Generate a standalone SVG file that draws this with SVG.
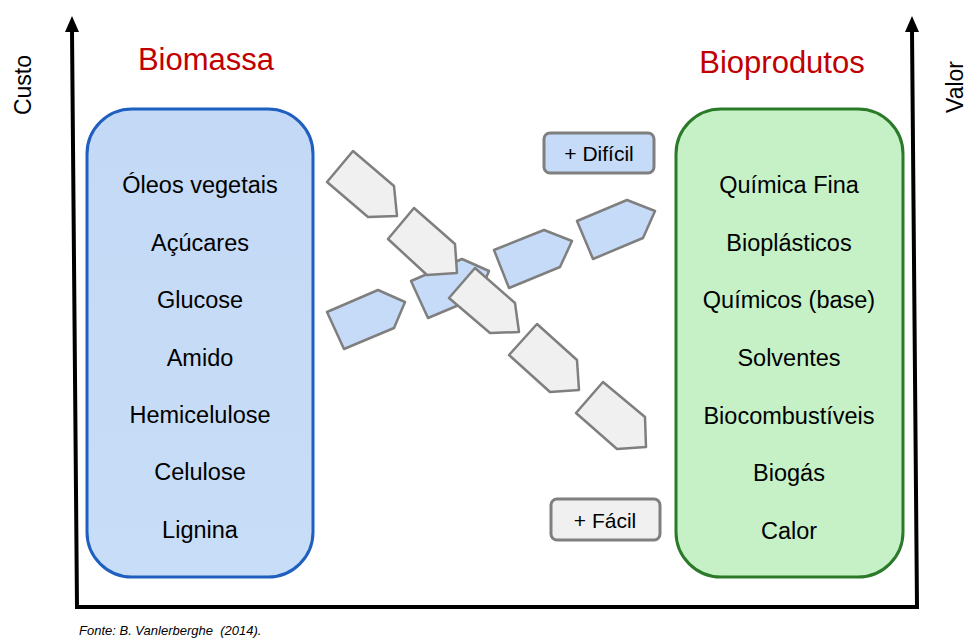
<svg xmlns="http://www.w3.org/2000/svg" width="972" height="643" viewBox="0 0 972 643">
<defs>
<style>
.t{font-family:"Liberation Sans",Arial,sans-serif;fill:#000}
.item{font-size:23.5px;text-anchor:middle}
.title{font-size:31px;fill:#c00000;text-anchor:middle;font-family:"Liberation Sans",Arial,sans-serif}
.ax{font-size:23px;text-anchor:middle}
.g{fill:#f0f0f0;stroke:#7f7f7f;stroke-width:2.5;stroke-linejoin:round}
.b{fill:#c5dbf7;stroke:#7f7f7f;stroke-width:2.5;stroke-linejoin:round}
.axis{stroke:#000;stroke-width:4;fill:none}
</style>
<linearGradient id="lb" x1="0" y1="0" x2="0" y2="1"><stop offset="0" stop-color="#c3d9f5"/><stop offset="1" stop-color="#c8ddf7"/></linearGradient>
</defs>
<rect width="972" height="643" fill="#fff"/>
<g id="connectors">
<path class="axis" d="M72,30 L77,607 L917,607 L912,30"/>
<polygon points="72,16 65,32 79,32" fill="#000"/>
<polygon points="912,16 905,32 919,32" fill="#000"/>
</g>
<g id="axis-labels">
<text class="t ax" transform="translate(31,85) rotate(-90)">Custo</text>
<text class="t ax" transform="translate(963,87) rotate(-90)">Valor</text>
</g>
<g id="title-biomassa"><text class="title" x="206" y="70">Biomassa</text></g>
<g id="title-bioprodutos"><text class="title" x="782" y="73">Bioprodutos</text></g>
<g id="biomassa">
<rect x="87" y="109" width="226" height="468" rx="45" fill="url(#lb)" stroke="#1f5fbf" stroke-width="3"/>
<text class="t item" x="200" y="193">Óleos vegetais</text>
<text class="t item" x="200" y="251">Açúcares</text>
<text class="t item" x="200" y="308">Glucose</text>
<text class="t item" x="200" y="366">Amido</text>
<text class="t item" x="200" y="423">Hemicelulose</text>
<text class="t item" x="200" y="480">Celulose</text>
<text class="t item" x="200" y="538">Lignina</text>
</g>
<g id="bioprodutos">
<rect x="676" y="109" width="227" height="468" rx="45" fill="#c6f1c6" stroke="#2a7a2a" stroke-width="3"/>
<text class="t item" x="789" y="193">Química Fina</text>
<text class="t item" x="789" y="251">Bioplásticos</text>
<text class="t item" x="789" y="308">Químicos (base)</text>
<text class="t item" x="789" y="366">Solventes</text>
<text class="t item" x="789" y="424">Biocombustíveis</text>
<text class="t item" x="789" y="481">Biogás</text>
<text class="t item" x="789" y="539">Calor</text>
</g>
<g id="dificil">
<rect x="544" y="133" width="110" height="40" rx="6" fill="#c5dbf7" stroke="#7f7f7f" stroke-width="3"/>
<text class="t" x="599" y="161" font-size="21" text-anchor="middle">+ Difícil</text>
</g>
<g id="facil">
<rect x="551" y="499" width="109" height="41" rx="6" fill="#f0f0f0" stroke="#7f7f7f" stroke-width="3"/>
<text class="t" x="605" y="528" font-size="21" text-anchor="middle">+ Fácil</text>
</g>
<g id="arrows-blue">
<polygon class="b" points="327,312 378,290 405,302 394,328 344,349"/>
<polygon class="b" points="411,281 462,259 489,271 478,297 428,318"/>
<polygon class="b" points="494,250 544,230 572,241 560,267 509,288"/>
<polygon class="b" points="577,221 627,200 655,211 643,238 593,259"/>
</g>
<g id="arrows-grey">
<polygon class="g" points="353,151 394,186 397,216 368,217 327,182"/>
<polygon class="g" points="414,208 455,244 457,273 427,275 388,239"/>
<polygon class="g" points="475,268 515,303 519,332 490,333 449,298"/>
<polygon class="g" points="537,324 577,360 579,390 550,392 509,355"/>
<polygon class="g" points="603,382 645,417 646,447 617,449 576,413"/>
</g>
<g id="fonte"><text class="t" x="79" y="635" font-size="13" font-style="italic" xml:space="preserve">Fonte: B. Vanlerberghe  (2014).</text></g>
</svg>
